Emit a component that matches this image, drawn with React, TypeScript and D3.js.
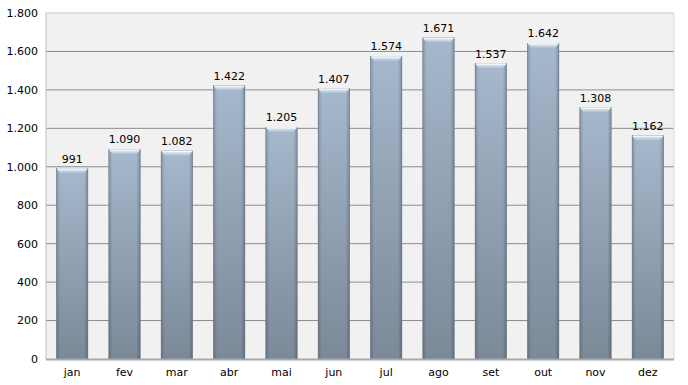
import React from "react";
import * as d3 from "d3";

const categories = ["jan", "fev", "mar", "abr", "mai", "jun", "jul", "ago", "set", "out", "nov", "dez"];
const values = [991, 1090, 1082, 1422, 1205, 1407, 1574, 1671, 1537, 1642, 1308, 1162];
const yTicks = [0, 200, 400, 600, 800, 1000, 1200, 1400, 1600, 1800];

const W = 688, H = 385;
const M = { left: 46, right: 14, top: 13, bottom: 26 };

const fmt = (v: number) => (v >= 1000 ? d3.format(",")(v).replace(/,/g, ".") : String(v));

export default function App() {
  const x = d3.scaleBand().domain(categories).range([M.left, W - M.right]).paddingInner(0.4).paddingOuter(0.2);
  const y = d3.scaleLinear().domain([0, 1800]).range([H - M.bottom, M.top]);
  const bw = x.bandwidth();
  const font = "Verdana, 'DejaVu Sans', sans-serif";
  return (
    <svg width={W} height={H} style={{ position: "absolute", left: 0, top: 0 }}>
      <defs>
        <linearGradient id="body" x1="0" y1="0" x2="0" y2="1">
          <stop offset="0" stopColor="#a6b8cd" />
          <stop offset="1" stopColor="#7b8998" />
        </linearGradient>
        <linearGradient id="side" x1="0" y1="0" x2="1" y2="0">
          <stop offset="0" stopColor="#000" stopOpacity="0.18" />
          <stop offset="0.12" stopColor="#000" stopOpacity="0" />
          <stop offset="0.88" stopColor="#000" stopOpacity="0" />
          <stop offset="1" stopColor="#000" stopOpacity="0.22" />
        </linearGradient>
        <linearGradient id="cap" x1="0" y1="0" x2="0" y2="1">
          <stop offset="0" stopColor="#eef4fb" />
          <stop offset="0.5" stopColor="#c9d7e6" />
          <stop offset="1" stopColor="#a6b8cd" />
        </linearGradient>
      </defs>
      <rect x={0} y={0} width={W} height={H} fill="#fff" />
      <rect x={M.left} y={M.top} width={W - M.left - M.right} height={H - M.top - M.bottom} fill="#f1f1f1" />
      {yTicks.map((t) => (
        <g key={t}>
          {t > 0 && (
            <line x1={M.left} x2={W - M.right} y1={y(t)} y2={y(t)} stroke={t === 1800 ? "#c8c8c8" : "#8c8c8c"} strokeWidth={1} />
          )}
          <text x={38} y={y(t)} dy="0.35em" textAnchor="end" fontFamily={font} fontSize={11} fill="#000">
            {fmt(t)}
          </text>
        </g>
      ))}
      <line x1={M.left} x2={M.left} y1={M.top} y2={H - M.bottom} stroke="#bdbdbd" strokeWidth={1} />
      <line x1={W - M.right} x2={W - M.right} y1={M.top} y2={H - M.bottom} stroke="#d8d8d8" strokeWidth={1} />
      {values.map((v, i) => {
        const c = categories[i];
        const bx = x(c)!;
        const by = y(v);
        const bh = y(0) - by;
        return (
          <g key={c}>
            <rect x={bx} y={by} width={bw} height={bh} fill="url(#body)" stroke="#6f7d8c" strokeWidth={0.6} />
            <rect x={bx} y={by} width={bw} height={bh} fill="url(#side)" />
            <path
              d={`M${bx},${by} L${bx + bw},${by} L${bx + bw - 4},${by + 5} L${bx + 4},${by + 5} Z`}
              fill="url(#cap)"
            />
            <line x1={bx + 1} x2={bx + bw - 1} y1={by + 0.5} y2={by + 0.5} stroke="#f8fbff" strokeWidth={1} />
            <text x={bx + bw / 2} y={by - 6} textAnchor="middle" fontFamily={font} fontSize={11} fill="#000">
              {fmt(v)}
            </text>
            <text x={bx + bw / 2} y={H - M.bottom + 17} textAnchor="middle" fontFamily={font} fontSize={11} fill="#000">
              {c}
            </text>
          </g>
        );
      })}
      <line x1={M.left} x2={W - M.right} y1={y(0) + 0.5} y2={y(0) + 0.5} stroke="#a9a9a9" strokeWidth={2} />
    </svg>
  );
}
